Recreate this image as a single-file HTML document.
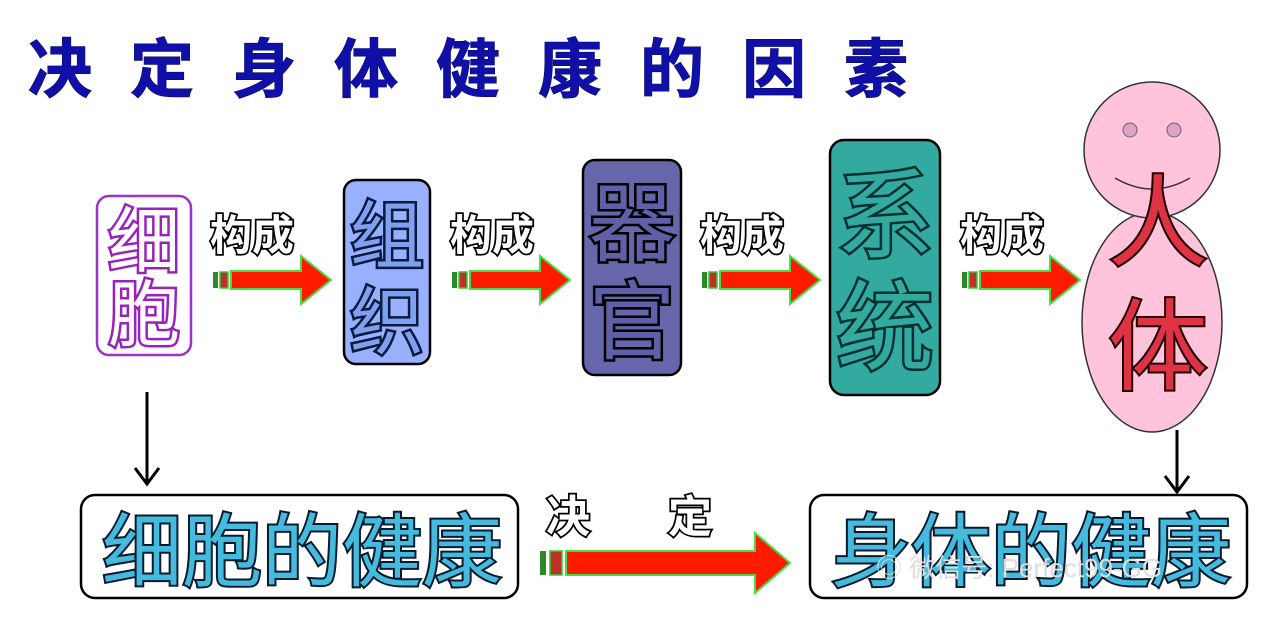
<!DOCTYPE html>
<html><head><meta charset="utf-8"><style>
html,body{margin:0;padding:0;background:#fff;}
svg{display:block}
text{font-family:"Liberation Sans","Noto Sans CJK SC",sans-serif;paint-order:stroke fill;}
</style></head><body>
<svg width="1280" height="625" viewBox="0 0 1280 625" xmlns="http://www.w3.org/2000/svg">
<defs>
<g id="arr">
<rect x="0" y="-8" width="5" height="16" fill="#2a8a2a"/>
<rect x="7" y="-8" width="8" height="16" fill="#c0302a" stroke="#33cc33" stroke-width="1.5"/>
<path d="M18,-9 H88 V-24 L118,0 L88,24 V9 H18 Z" fill="#ff1a00" stroke="#44dd44" stroke-width="2"/>
</g>
</defs>
<rect width="1280" height="625" fill="#fff"/>
<!-- title -->
<text x="28" y="92" font-size="64" font-weight="bold" fill="#1010a8" stroke="#0a0a60" stroke-width="1" letter-spacing="38">决定身体健康的因素</text>

<!-- boxes -->
<rect x="97" y="196" width="94" height="159" rx="12" fill="#fff" stroke="#9933cc" stroke-width="2.5"/>
<text x="144" y="267" font-size="72" text-anchor="middle" fill="#fff" stroke="#9922bb" stroke-width="5">细</text>
<text x="144" y="340" font-size="72" text-anchor="middle" fill="#fff" stroke="#9922bb" stroke-width="5">胞</text>

<rect x="344" y="180" width="86" height="184" rx="12" fill="#99b0ff" stroke="#000" stroke-width="2.5"/>
<text x="387" y="262" font-size="74" text-anchor="middle" fill="#7fa0ee" stroke="#0a1a40" stroke-width="5">组</text>
<text x="387" y="348" font-size="74" text-anchor="middle" fill="#7fa0ee" stroke="#0a1a40" stroke-width="5">织</text>

<rect x="583" y="160" width="98" height="215" rx="12" fill="#6666aa" stroke="#000" stroke-width="2.5"/>
<text x="632" y="254" font-size="86" text-anchor="middle" fill="#6060a8" stroke="#000" stroke-width="5">器</text>
<text x="632" y="352" font-size="86" text-anchor="middle" fill="#6060a8" stroke="#000" stroke-width="5">官</text>

<rect x="830" y="140" width="110" height="255" rx="14" fill="#33aaa0" stroke="#000" stroke-width="2.5"/>
<text x="885" y="250" font-size="98" text-anchor="middle" fill="#33aaa0" stroke="#003030" stroke-width="5">系</text>
<text x="885" y="362" font-size="98" text-anchor="middle" fill="#33aaa0" stroke="#003030" stroke-width="5">统</text>

<!-- person -->
<ellipse cx="1152" cy="322" rx="70" ry="110" fill="#ffc4dc" stroke="#333" stroke-width="1.5"/>
<circle cx="1152" cy="150" r="68" fill="#ffc4dc" stroke="#333" stroke-width="1.5"/>
<circle cx="1130" cy="130" r="7" fill="#e0a0c8" stroke="#666" stroke-width="1"/>
<circle cx="1174" cy="130" r="7" fill="#e0a0c8" stroke="#666" stroke-width="1"/>
<path d="M1115,178 Q1152,200 1190,178" fill="none" stroke="#333" stroke-width="1.5"/>
<text x="1158" y="258" font-size="100" text-anchor="middle" fill="#dd3344" stroke="#220000" stroke-width="4">人</text>
<text x="1158" y="382" font-size="100" text-anchor="middle" fill="#dd3344" stroke="#220000" stroke-width="4">体</text>

<!-- arrows & labels -->
<g font-size="42" font-weight="bold" fill="#fff" stroke="#000" stroke-width="3.5">
<text x="210" y="250">构成</text>
<text x="450" y="250">构成</text>
<text x="700" y="250">构成</text>
<text x="960" y="250">构成</text>
</g>
<use href="#arr" transform="translate(213,280)"/>
<use href="#arr" transform="translate(452,280)"/>
<use href="#arr" transform="translate(702,280)"/>
<use href="#arr" transform="translate(962,280)"/>

<!-- down arrows -->
<line x1="147" y1="392" x2="147" y2="483" stroke="#000" stroke-width="3"/>
<path d="M135,468 L147,484 L159,468" fill="none" stroke="#000" stroke-width="3"/>
<line x1="1177" y1="430" x2="1177" y2="490" stroke="#000" stroke-width="3"/>
<path d="M1165,476 L1177,492 L1189,476" fill="none" stroke="#000" stroke-width="3"/>

<!-- bottom boxes -->
<rect x="81" y="495" width="437" height="103" rx="14" fill="#fff" stroke="#000" stroke-width="2.5"/>
<text x="302" y="580" font-size="80" text-anchor="middle" fill="#44bbdd" stroke="#0a1a30" stroke-width="4">细胞的健康</text>
<rect x="810" y="495" width="437" height="103" rx="14" fill="#fff" stroke="#000" stroke-width="2.5"/>
<text x="1031" y="580" font-size="80" text-anchor="middle" fill="#44bbdd" stroke="#0a1a30" stroke-width="4">身体的健康</text>
<text x="876" y="577" font-size="26" fill="#ddd" stroke="none">◎ 微信号: Perfect99-GG</text>

<!-- bottom arrow -->
<g font-size="44" font-weight="bold" fill="#fff" stroke="#000" stroke-width="3.5">
<text x="546" y="532">决</text>
<text x="668" y="532">定</text>
</g>
<g transform="translate(540,563)">
<rect x="0" y="-12" width="6" height="24" fill="#2a8a2a"/>
<rect x="10" y="-12" width="12" height="24" fill="#c0302a" stroke="#33cc33" stroke-width="1.5"/>
<path d="M26,-12 H215 V-30 L250,0 L215,30 V12 H26 Z" fill="#ff1a00" stroke="#44dd44" stroke-width="2"/>
</g>
</svg>
</body></html>
